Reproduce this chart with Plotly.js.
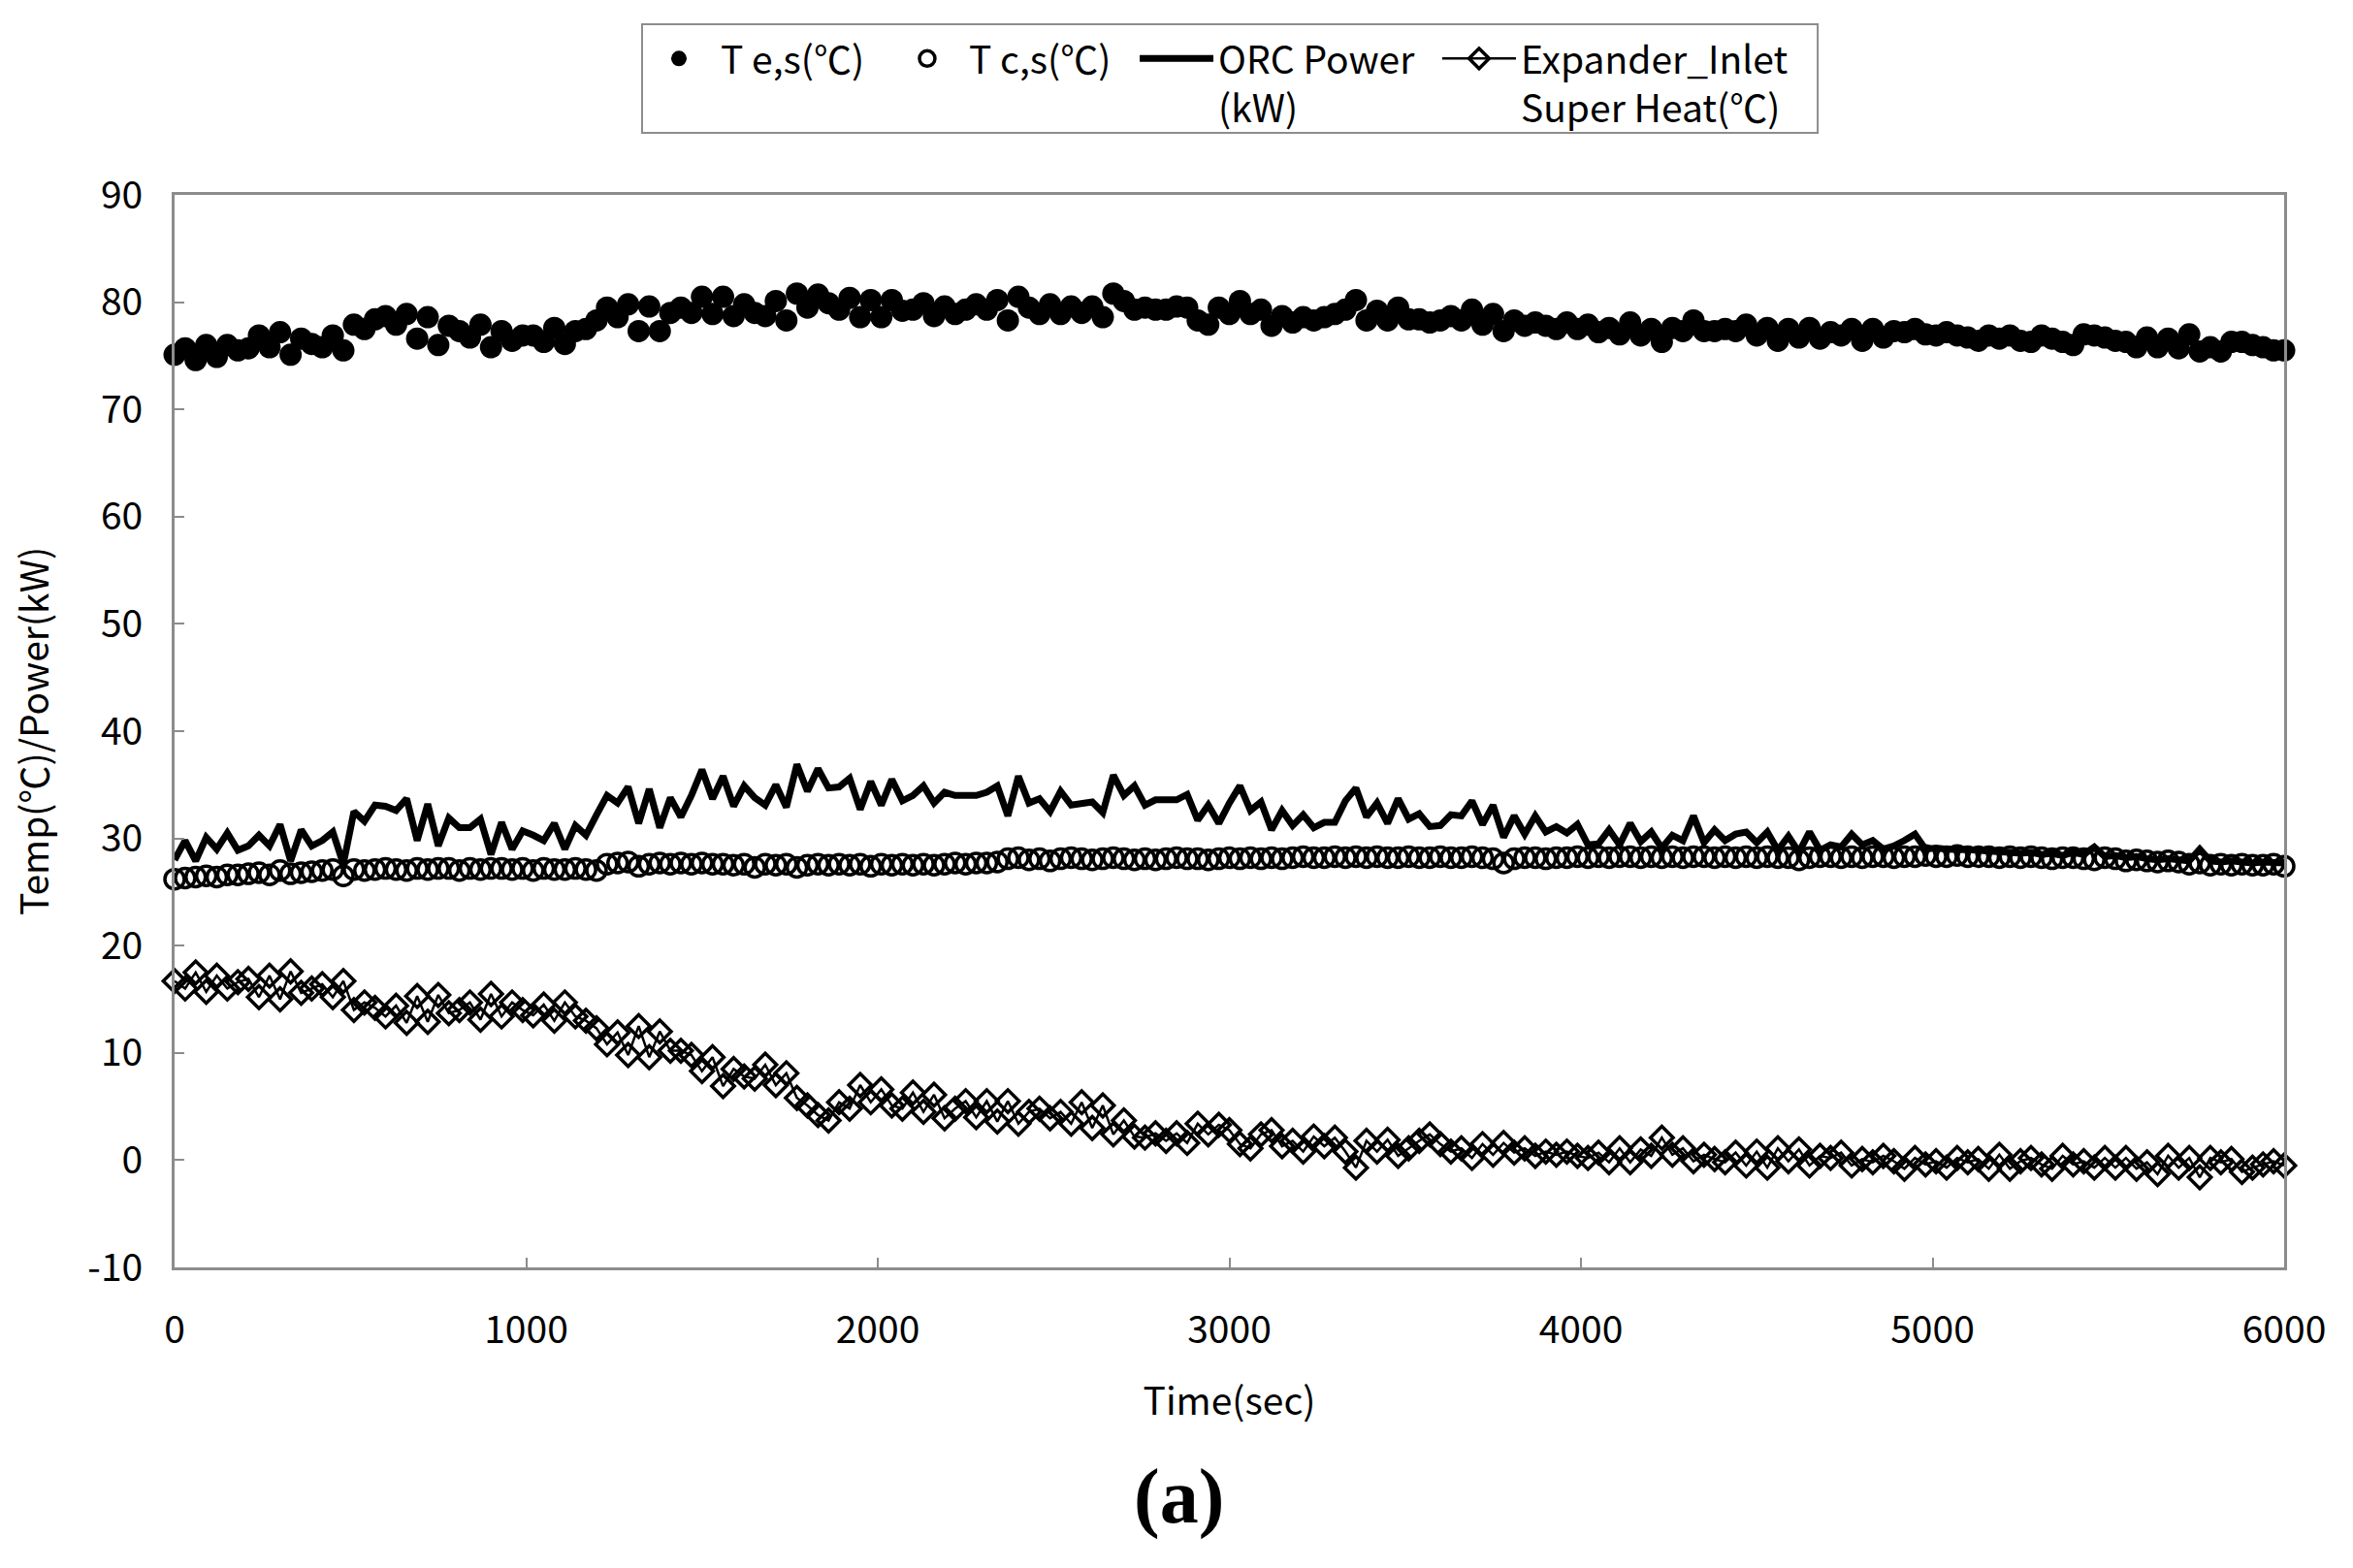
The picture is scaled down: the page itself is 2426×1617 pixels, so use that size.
<!DOCTYPE html>
<html><head><meta charset="utf-8">
<script src="https://cdn.plot.ly/plotly-3.0.1.min.js"></script>
<style>html,body{margin:0;padding:0;background:#fff}#chart{width:2426px;height:1617px}</style>
</head><body><div id="chart"></div>
<script>
const timeSec = [0,30,60,90,120,150,180,210,240,270,300,330,360,390,420,450,480,510,540,570,600,630,660,690,720,750,780,810,840,870,900,930,960,990,1020,1050,1080,1110,1140,1170,1200,1230,1260,1290,1320,1350,1380,1410,1440,1470,1500,1530,1560,1590,1620,1650,1680,1710,1740,1770,1800,1830,1860,1890,1920,1950,1980,2010,2040,2070,2100,2130,2160,2190,2220,2250,2280,2310,2340,2370,2400,2430,2460,2490,2520,2550,2580,2610,2640,2670,2700,2730,2760,2790,2820,2850,2880,2910,2940,2970,3000,3030,3060,3090,3120,3150,3180,3210,3240,3270,3300,3330,3360,3390,3420,3450,3480,3510,3540,3570,3600,3630,3660,3690,3720,3750,3780,3810,3840,3870,3900,3930,3960,3990,4020,4050,4080,4110,4140,4170,4200,4230,4260,4290,4320,4350,4380,4410,4440,4470,4500,4530,4560,4590,4620,4650,4680,4710,4740,4770,4800,4830,4860,4890,4920,4950,4980,5010,5040,5070,5100,5130,5160,5190,5220,5250,5280,5310,5340,5370,5400,5430,5460,5490,5520,5550,5580,5610,5640,5670,5700,5730,5760,5790,5820,5850,5880,5910,5940,5970,6000];

const tEvap = [75.1,75.7,74.6,76.0,74.9,76.0,75.5,75.7,76.9,75.8,
77.2,75.1,76.6,76.1,75.8,76.9,75.5,77.9,77.5,78.4,
78.7,77.9,78.9,76.6,78.6,76.0,77.8,77.3,76.7,77.9,
75.8,77.3,76.4,76.9,76.9,76.3,77.6,76.1,77.3,77.5,
78.3,79.5,78.6,79.8,77.3,79.6,77.3,79.0,79.5,79.0,
80.5,78.9,80.5,78.7,79.8,79.0,78.7,80.1,78.3,80.8,
79.5,80.7,79.9,79.3,80.4,78.6,80.2,78.6,80.2,79.2,
79.3,
79.9,78.7,79.6,78.9,79.3,79.8,79.3,80.2,78.3,80.5,
79.5,78.9,79.8,78.9,79.6,79.0,79.6,78.6,80.8,80.1,
79.3,79.5,79.3,79.3,79.6,79.5,78.3,77.9,79.5,78.9,
80.1,78.9,79.3,77.8,78.7,78.1,78.6,78.3,78.6,78.9,
79.3,80.2,78.3,79.2,78.3,79.5,78.4,78.4,78.1,78.3,
78.7,78.3,79.3,77.9,78.9,77.3,78.3,77.8,78.1,77.8,
77.5,78.1,77.5,77.9,77.2,77.6,77.0,78.1,76.9,
77.5,76.3,77.6,77.3,78.3,77.3,77.3,77.5,77.3,77.9,
76.9,77.6,76.4,77.5,76.7,77.6,76.6,77.2,76.9,77.5,
76.4,77.5,76.7,77.3,77.2,77.5,77.0,76.9,77.2,76.9,
76.7,76.4,76.9,76.6,76.9,76.4,76.3,76.9,76.6,76.3,
76.0,77.0,76.9,76.7,76.4,76.3,75.8,76.7,75.8,76.6,
75.7,77.0,75.4,75.8,75.4,76.3,76.3,76.0,75.8,75.5,
75.5];

const tCond = [26.2,26.3,26.4,26.5,26.4,26.6,26.6,26.7,26.8,26.6,27.0,26.7,26.8,26.9,27.0,27.1,26.5,
27.1,27.0,27.1,27.2,27.1,27.0,27.2,27.1,27.2,27.2,27.0,27.2,27.1,27.2,27.2,27.1,27.2,27.0,27.2,27.1,27.1,27.2,27.1,27.0,
27.6,27.7,27.8,27.4,27.6,27.7,27.6,27.7,27.6,27.7,27.6,
27.6,27.5,27.6,27.3,27.6,27.5,27.6,27.3,27.5,27.6,27.5,27.6,27.5,27.6,27.4,27.6,27.5,27.6,27.5,27.6,27.5,27.6,27.7,27.6,27.7,27.7,27.8,
28.1,28.2,28.0,28.1,27.9,28.1,28.2,28.1,28.0,28.1,28.2,28.1,28.0,28.1,28.0,28.1,28.2,28.1,28.1,28.0,28.1,28.2,28.1,
28.2,28.1,28.2,28.1,28.2,28.3,28.2,28.2,28.3,28.2,
28.3,28.2,28.3,28.2,28.2,28.3,28.2,28.2,28.3,28.2,
28.2,28.3,28.2,28.1,27.7,28.1,28.2,28.2,28.1,28.2,
28.2,28.3,28.2,28.3,28.2,28.3,28.3,28.2,28.3,28.2,
28.3,28.2,28.3,28.3,28.2,28.3,28.2,28.3,28.2,28.3,28.2,
28.2,28.0,28.2,28.3,28.3,28.2,28.3,28.2,28.3,28.3,
28.2,28.3,28.3,28.4,28.3,28.3,28.4,28.3,28.3,28.3,
28.2,28.3,28.2,28.3,28.2,28.1,28.2,28.2,28.1,28.0,
28.2,28.1,27.9,28.0,27.9,27.8,27.9,27.8,27.6,27.7,
27.5,27.6,27.5,27.6,27.5,27.5,27.6,27.4];

const orcPower = [28.0,29.8,27.9,30.1,29.0,30.5,28.9,29.3,30.3,29.3,
31.3,27.9,30.8,29.3,29.8,30.6,27.6,32.5,31.6,33.1,
33.0,32.6,33.7,29.8,33.2,29.3,31.9,31.0,31.0,31.8,
28.5,31.5,29.0,30.7,30.3,29.8,31.4,29.0,31.2,30.3,
32.2,34.0,33.3,34.8,31.4,34.6,31.0,33.8,32.0,34.0,
36.4,
33.7,35.8,33.0,34.9,33.8,33.1,35.0,32.9,36.9,34.4,
36.5,34.7,34.8,35.6,32.7,35.3,33.1,35.5,33.5,34.0,
34.9,33.3,34.3,34.0,34.0,34.0,34.3,34.9,32.1,35.8,
33.3,33.7,32.5,34.4,33.1,33.2,33.4,32.4,35.9,34.0,
34.9,33.1,33.6,33.6,33.6,34.1,31.7,33.1,31.4,33.3,
34.9,
32.6,33.4,30.8,32.6,31.2,32.2,31.0,31.5,31.5,33.5,
34.7,32.0,33.3,31.4,33.7,31.8,32.3,31.1,31.2,32.2,
32.1,33.5,31.3,33.1,30.1,32.1,30.4,32.1,30.6,31.1,
30.5,31.3,29.4,29.5,30.8,29.4,31.4,29.7,30.6,29.1,
30.3,29.8,32.1,29.6,30.8,29.8,30.4,30.6,29.6,30.6,
28.9,
30.2,28.7,30.6,28.9,29.4,29.2,30.4,29.4,29.8,29.0,
29.3,29.8,30.4,29.0,29.1,29.0,29.0,28.9,28.9,28.8,
28.8,28.7,28.6,28.7,28.5,28.6,28.4,28.7,28.5,29.2,
28.3,28.4,28.2,28.3,28.1,28.0,28.1,28.0,27.9,29.0,
27.9,27.8,27.9,27.8,27.7,27.8,27.7,27.7];

const superHeat = [16.7,16.0,17.5,15.7,17.2,16.0,16.6,16.9,15.2,17.2,
15.0,17.6,15.6,16.0,16.4,15.2,16.7,14.0,14.7,14.2,
13.4,14.4,12.8,15.3,12.9,15.4,13.7,14.0,14.7,13.1,
15.5,13.4,14.7,14.0,13.5,14.5,13.0,14.7,13.4,13.0,
12.3,10.8,11.9,9.8,12.5,9.6,12.0,10.2,10.2,9.8,
8.3,
9.6,6.9,8.5,7.8,7.6,8.9,7.0,8.1,5.8,5.1,
4.2,3.7,5.4,4.8,7.0,5.4,6.6,5.1,4.8,6.3,
4.5,6.1,3.9,4.8,5.5,4.0,5.5,3.6,5.5,3.4,
4.5,4.8,3.9,4.5,3.4,5.4,3.0,5.1,2.4,3.7,
2.2,2.1,2.5,1.8,2.5,1.6,3.4,2.4,3.3,2.8,
1.5,
1.1,2.4,2.8,1.3,1.8,0.8,2.2,1.3,2.1,0.8,
-0.7,1.8,0.8,1.9,0.4,1.1,1.8,2.4,1.5,0.8,
1.1,0.2,1.5,0.5,1.6,0.7,1.1,0.4,0.8,0.5,
0.8,0.4,0.2,0.7,-0.2,1.1,-0.2,1.0,0.4,2.1,
0.5,1.1,-0.1,0.5,0.1,-0.2,0.7,-0.5,0.8,-0.7,
1.1,
-0.1,1.0,-0.5,0.4,0.2,0.7,-0.5,0.1,-0.2,0.4,
-0.1,-0.8,0.2,-0.4,-0.1,-0.7,0.2,-0.2,0.1,-0.8,
0.5,-0.8,-0.1,0.2,-0.4,-0.8,0.4,-0.4,-0.1,-0.7,
0.2,-0.7,0.2,-0.8,-0.2,-1.3,0.4,-0.7,0.2,-1.6,
0.2,-0.2,0.1,-1.1,-0.7,-0.4,-0.1,-0.5];

const seriesNames = ['T e,s(℃)', 'T c,s(℃)', 'ORC Power<br>(kW)', 'Expander_Inlet<br>Super Heat(℃)'];
const xTicks = [0,1000,2000,3000,4000,5000,6000];
const yTicks = [-10,0,10,20,30,40,50,60,70,80,90];

const FONT = '"Noto Sans CJK TC", "Noto Sans", sans-serif';
const traces = [
  {type:'scatter', x:timeSec, y:tEvap, name:seriesNames[0], legend:'legend', mode:'markers', cliponaxis:false,
   marker:{symbol:'circle', size:23, color:'#000'}},
  {type:'scatter', x:timeSec, y:tCond, name:seriesNames[1], legend:'legend2', mode:'markers', cliponaxis:false,
   marker:{symbol:'circle-open', size:20, color:'#000', line:{width:3.5, color:'#000'}}},
  {type:'scatter', x:timeSec, y:orcPower, name:seriesNames[2], legend:'legend3', mode:'lines', cliponaxis:false,
   line:{color:'#000', width:7}},
  {type:'scatter', x:timeSec, y:superHeat, name:seriesNames[3], legend:'legend4', mode:'lines+markers', cliponaxis:false,
   line:{color:'#000', width:2.5},
   marker:{symbol:'diamond-open', size:18, color:'#000', line:{width:3.5, color:'#000'}}}
];

const axisCommon = {
  showgrid:false, zeroline:false, showline:true, mirror:true,
  linecolor:'#8c8c8c', linewidth:3,
  ticks:'inside', ticklen:10, tickwidth:2, tickcolor:'#8c8c8c',
  tickfont:{family:FONT, size:39, color:'#000'}
};

function legendAt(xFrac) {
  return {orientation:'h', x:xFrac, xanchor:'left', y:1.156, yanchor:'top',
    borderwidth:0, bgcolor:'rgba(0,0,0,0)',
    font:{family:FONT, size:39, color:'#000'}, valign:'top', itemwidth:76};
}

const layout = {
  width:2426, height:1617,
  paper_bgcolor:'#fff', plot_bgcolor:'#fff',
  margin:{l:180, r:71, t:201, b:310},
  font:{family:FONT, color:'#000'},
  showlegend:true,
  legend:legendAt(0.2193),
  legend2:legendAt(0.3370),
  legend3:legendAt(0.4552),
  legend4:legendAt(0.5986),
  shapes:[
    {type:'rect', xref:'paper', yref:'paper', x0:0.2216, x1:0.7789, y0:1.0579, y1:1.1591,
     line:{color:'#8c8c8c', width:2}, fillcolor:'rgba(0,0,0,0)', layer:'below'}
  ],
  xaxis:Object.assign({}, axisCommon, {
    range:[0,6000], tickvals:xTicks, ticktext:xTicks.map(String), ticklabelstandoff:28,
    title:{text:'Time(sec)', font:{family:FONT, size:39, color:'#000'}, standoff:37}
  }),
  yaxis:Object.assign({}, axisCommon, {
    range:[-10,90], tickvals:yTicks, ticktext:yTicks.map(String), ticklabelstandoff:22,
    title:{text:'Temp(℃)/Power(kW)', font:{family:FONT, size:39, color:'#000'}, standoff:28}
  }),
  annotations:[
    {text:'<b>(a)</b>', xref:'paper', yref:'paper', x:0.476, y:-0.214, xanchor:'center', yanchor:'middle',
     showarrow:false, font:{family:'"Liberation Serif", "Times New Roman", serif', size:80, color:'#000'}}
  ]
};

Plotly.newPlot('chart', traces, layout, {displayModeBar:false, staticPlot:true});
</script>
</body></html>
